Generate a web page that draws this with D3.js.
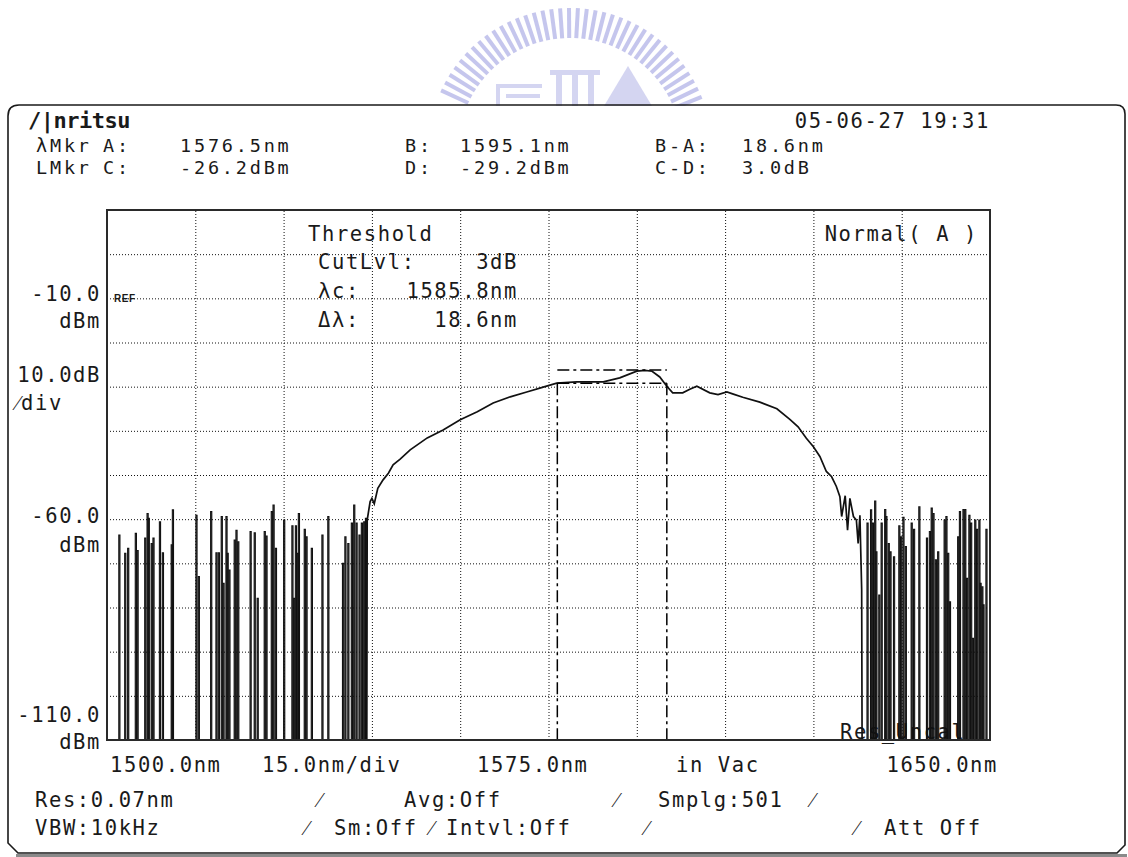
<!DOCTYPE html>
<html>
<head>
<meta charset="utf-8">
<script src="https://cdn.jsdelivr.net/npm/d3@7"></script>
<style>
  body { margin: 0; background: #fff; }
  svg text { font-family: "DejaVu Sans Mono", monospace; font-size: 20.5px; letter-spacing: 1.6px; fill: #1a1a1a; }
  svg text.hdr { font-size: 18.5px; letter-spacing: 2.8px; }
</style>
</head>
<body>
<svg id="chart" width="1128" height="857"></svg>
<script>

// axis ranges of the analyser screen
var xDomain = [1500, 1650];       // nm
var yDomain = [-110, 10];         // dBm, 10 dB/div, REF -10 dBm
var xGrid = [1515, 1530, 1545, 1560, 1575, 1590, 1605, 1620, 1635];
var yGrid = [0, -10, -20, -30, -40, -50, -60, -70, -80, -90, -100];

// markers / threshold result
var markerA = 1576.5, markerB = 1595.1;
var levelC = -26.2, levelD = -29.2;

// header and footer texts
var headerRow1 = ["λMkr", "A:", "1576.5nm", "B:", "1595.1nm", "B-A:", "18.6nm"];
var headerRow2 = ["LMkr", "C:", "-26.2dBm", "D:", "-29.2dBm", "C-D:", "3.0dB"];
var dateText = "05-06-27 19:31";
var yLabelValues = [-10, -60, -110];
var yLabelTexts = ["-10.0", "-60.0", "-110.0"];
var xLabelTexts = ["1500.0nm", "15.0nm/div", "1575.0nm", "in Vac", "1650.0nm"];
var footerRow1 = ["Res:0.07nm", "⁄", "Avg:Off", "⁄", "Smplg:501", "⁄"];
var footerRow2 = ["VBW:10kHz", "⁄", "Sm:Off", "⁄", "Intvl:Off", "⁄", "⁄", "Att Off"];
var thresholdLabels = ["CutLvl:", "λc:", "Δλ:"];
var thresholdValues = ["3dB", "1585.8nm", "18.6nm"];

// ASE spectrum (nm, dBm)
var signalNm = [1544.1, 1544.2, 1544.7, 1545.0, 1545.4, 1546.0, 1546.9, 1547.8, 1548.6, 1549.8,
  1551.5, 1554.4, 1557.1, 1560.0, 1562.9, 1565.6, 1568.5, 1571.3, 1574.1, 1576.4,
  1579.8, 1584.3, 1587.1, 1590.0, 1591.4, 1592.6, 1593.9, 1595.1, 1596.1, 1597.8,
  1599.0, 1600.2, 1602.4, 1603.8, 1605.3, 1606.4, 1608.0, 1610.9, 1613.8, 1616.0,
  1617.4, 1618.8, 1620.0, 1621.1, 1622.2, 1623.1, 1623.9, 1624.5, 1624.8, 1625.4,
  1625.8, 1626.2, 1626.8, 1627.3, 1627.6, 1627.9, 1628.2, 1628.3];
var signalDbm = [-125, -60.2, -56.0, -55.3, -56.5, -53.0, -51.1, -49.6, -47.7, -46.4,
  -44.3, -41.6, -39.8, -37.5, -35.7, -33.7, -32.3, -31.2, -30.1, -29.2,
  -28.9, -28.9, -28.0, -26.5, -26.3, -26.5, -27.8, -29.9, -31.4, -31.4,
  -30.6, -29.9, -31.4, -31.8, -31.2, -31.7, -32.4, -33.5, -35.0, -37.4,
  -39.1, -41.7, -43.6, -45.8, -49.2, -50.4, -52.6, -54.9, -59.4, -54.7,
  -62.5, -55.3, -59.4, -60.2, -65.5, -59.1, -76.0, -125];

// noise spikes outside the band (nm, top dBm); between them the trace is below -110 dBm
var noiseNm = [1502.1, 1503.1, 1503.6, 1504.9, 1505.2, 1506.5, 1506.9, 1507.1, 1507.6, 1507.9,
  1509.0, 1509.5, 1511.0, 1511.2, 1515.2, 1515.6, 1517.7, 1518.6, 1519.0, 1519.5,
  1519.8, 1520.3, 1520.5, 1520.8, 1521.7, 1522.0, 1522.3, 1524.4, 1525.1, 1525.6,
  1526.8, 1527.1, 1528.0, 1528.3, 1528.7, 1530.1, 1531.5, 1531.8, 1532.1, 1532.4,
  1532.6, 1533.6, 1533.9, 1534.8, 1536.6, 1537.6, 1540.1, 1540.5, 1541.0, 1541.6,
  1542.0, 1542.4, 1542.9, 1543.3, 1543.7, 1544.0,
  1629.2, 1629.8, 1630.1, 1630.5, 1630.7, 1631.2, 1631.6, 1632.2, 1632.4, 1632.8,
  1633.1, 1633.7, 1634.6, 1634.9, 1635.3, 1635.7, 1636.7, 1637.1, 1638.0, 1639.3,
  1639.8, 1640.1, 1640.4, 1640.8, 1641.2, 1642.3, 1642.6, 1642.9, 1643.2, 1644.6,
  1644.9, 1645.5, 1645.8, 1646.1, 1646.5, 1646.8, 1647.1, 1647.5, 1647.8, 1648.2,
  1648.4, 1648.7, 1648.9, 1649.4];
var noiseDbm = [-63.6, -67.7, -66.6, -63.2, -67.1, -64.3, -58.7, -59.8, -65.5, -64.3,
  -60.6, -67.6, -65.8, -57.9, -59.1, -73.0, -58.3, -67.6, -67.6, -59.4,
  -74.5, -59.4, -67.7, -71.5, -64.7, -62.5, -65.1, -62.8, -63.1, -77.9,
  -62.8, -63.8, -58.3, -56.8, -66.6, -60.2, -61.5, -77.9, -61.5, -67.7,
  -58.7, -62.3, -64.0, -66.6, -63.6, -59.4, -70.0, -64.0, -65.5, -60.9,
  -56.8, -60.9, -63.6, -60.9, -60.6, -59.8,
  -60.9, -57.9, -60.9, -55.9, -67.4, -77.2, -60.9, -57.8, -59.4, -65.5,
  -67.4, -68.5, -61.5, -64.0, -59.6, -66.2, -60.9, -62.3, -57.2, -64.3,
  -62.8, -57.5, -58.7, -69.2, -67.4, -60.2, -59.4, -67.7, -78.7, -64.0,
  -58.3, -57.8, -57.8, -73.4, -59.1, -60.9, -87.0, -60.2, -62.3, -60.2,
  -74.5, -75.3, -79.4, -62.3];

var FLOOR = -125;

var svg = d3.select("#chart");

// plot area on the screen
var pLeft = 107, pTop = 210, pRight = 990, pBottom = 740;

var x = d3.scaleLinear().domain(xDomain).range([pLeft, pRight]);
var y = d3.scaleLinear().domain(yDomain).range([pBottom, pTop]);

function label(px, py, s, anchor) {
  return svg.append("text")
    .attr("x", px)
    .attr("y", py)
    .attr("text-anchor", anchor || "start")
    .text(s);
}

/////////////////////////////////////////////////
// watermark logo (faint, behind everything)
/////////////////////////////////////////////////
var wm = svg.append("g").attr("opacity", 0.45);
for (var a = 22; a <= 158; a += 3.6) {
  var r = a * Math.PI / 180;
  wm.append("line")
    .attr("x1", 570 + 112 * Math.cos(r)).attr("y1", 150 - 112 * Math.sin(r))
    .attr("x2", 570 + 142 * Math.cos(r)).attr("y2", 150 - 142 * Math.sin(r))
    .attr("stroke", "#8082d8")
    .attr("stroke-width", 4);
}
var bld = wm.append("g").attr("fill", "#a2a4e2");
bld.append("rect").attr("x", 496).attr("y", 84).attr("width", 46).attr("height", 4);
bld.append("rect").attr("x", 496).attr("y", 84).attr("width", 4).attr("height", 22);
bld.append("rect").attr("x", 506).attr("y", 94).attr("width", 34).attr("height", 4);
bld.append("rect").attr("x", 550).attr("y", 70).attr("width", 50).attr("height", 5);
bld.append("rect").attr("x", 556).attr("y", 70).attr("width", 6).attr("height", 36);
bld.append("rect").attr("x", 572).attr("y", 70).attr("width", 6).attr("height", 36);
bld.append("rect").attr("x", 588).attr("y", 70).attr("width", 6).attr("height", 36);
bld.append("path").attr("d", "M604,106 L628,66 L652,106 Z");

/////////////////////////////////////////////////
// outer screen frame
/////////////////////////////////////////////////
svg.append("rect")
  .attr("x", 9).attr("y", 106).attr("width", 1115).attr("height", 746)
  .attr("fill", "#fff");
svg.append("path")
  .attr("d", "M8,116 Q8,105 19,105 H1116 Q1125,105 1125,114 V845 L1117,853 H18 L8,843 Z")
  .attr("fill", "none")
  .attr("stroke", "#1a1a1a")
  .attr("stroke-width", 1.6);
svg.append("line")
  .attr("x1", 16).attr("x2", 1127).attr("y1", 855.5).attr("y2", 855.5)
  .attr("stroke", "#8a8a8a").attr("stroke-width", 3);

/////////////////////////////////////////////////
// header
/////////////////////////////////////////////////
label(28, 128, "/|nritsu").style("font-weight", "bold").style("font-size", "22px").style("letter-spacing", "-0.5px");
label(990, 128, dateText, "end");

var headerCols = [36, 103, 180, 405, 460, 655, 742];
headerRow1.forEach(function (s, i) { label(headerCols[i], 152, s).attr("class", "hdr"); });
headerRow2.forEach(function (s, i) { label(headerCols[i], 174, s).attr("class", "hdr"); });

/////////////////////////////////////////////////
// grid (dotted) via axes
/////////////////////////////////////////////////
var gx = svg.append("g")
  .attr("transform", "translate(0," + pBottom + ")")
  .call(d3.axisBottom(x).tickValues(xGrid).tickSize(-(pBottom - pTop)).tickFormat(""));
var gy = svg.append("g")
  .attr("transform", "translate(" + pLeft + ",0)")
  .call(d3.axisLeft(y).tickValues(yGrid).tickSize(-(pRight - pLeft)).tickFormat(""));
[gx, gy].forEach(function (g) {
  g.select(".domain").remove();
  g.selectAll(".tick line")
    .attr("stroke", "#111")
    .attr("stroke-width", 1)
    .attr("stroke-dasharray", "1,2");
});

// REF tag on the reference level line
svg.append("text")
  .attr("x", 114).attr("y", y(-10) + 4)
  .style("font-family", "Liberation Sans, Arial, sans-serif")
  .style("font-size", "10px")
  .style("font-weight", "bold")
  .style("letter-spacing", "0.5px")
  .text("REF");

/////////////////////////////////////////////////
// texts inside the plot
/////////////////////////////////////////////////
label(308, 241, "Threshold");
var thrY = [269, 298, 327];
thresholdLabels.forEach(function (s, i) { label(318, thrY[i], s); });
thresholdValues.forEach(function (s, i) { label(518, thrY[i], s, "end"); });
label(978, 241, "Normal( A )", "end");
label(840, 739, "Res_Uncal");

/////////////////////////////////////////////////
// y labels
/////////////////////////////////////////////////
var yValShift = [3, 4, -18];
var yUnitShift = [30, 33, 9];
yLabelValues.forEach(function (v, i) {
  label(101, y(v) + yValShift[i], yLabelTexts[i], "end");
  label(101, y(v) + yUnitShift[i], "dBm", "end");
});
label(101, 382, "10.0dB", "end");
label(16, 410, "⁄div");

/////////////////////////////////////////////////
// x labels
/////////////////////////////////////////////////
var xLabelPos = [x(1500) + 3, 262, 477, 676, x(1650) + 8];
var xLabelAnchor = ["start", "start", "start", "start", "end"];
xLabelTexts.forEach(function (s, i) { label(xLabelPos[i], 772, s, xLabelAnchor[i]); });

/////////////////////////////////////////////////
// footer settings
/////////////////////////////////////////////////
var foot1X = [35, 318, 404, 615, 658, 811];
var foot2X = [35, 305, 334, 430, 446, 645, 855, 884];
footerRow1.forEach(function (s, i) { label(foot1X[i], 807, s); });
footerRow2.forEach(function (s, i) { label(foot2X[i], 835, s); });

/////////////////////////////////////////////////
// traces
/////////////////////////////////////////////////
svg.append("clipPath").attr("id", "plotclip")
  .append("rect")
  .attr("x", pLeft).attr("y", pTop)
  .attr("width", pRight - pLeft).attr("height", pBottom - pTop);

var traces = svg.append("g").attr("clip-path", "url(#plotclip)");
var line = d3.line()
  .x(function (d) { return x(d[0]); })
  .y(function (d) { return y(d[1]); });

// noise spikes: up and down on neighbouring samples
var half = 0.1;
noiseNm.forEach(function (nm, i) {
  var pts = [[nm - half, FLOOR], [nm - half, noiseDbm[i]], [nm + half, noiseDbm[i]], [nm + half, FLOOR]];
  traces.append("path")
    .attr("d", line(pts))
    .attr("fill", "none")
    .attr("stroke", "#111")
    .attr("stroke-width", 1.1);
});

// the amplified band
var sig = signalNm.map(function (nm, i) { return [nm, signalDbm[i]]; });
traces.append("path")
  .attr("d", line(sig))
  .attr("fill", "none")
  .attr("stroke", "#111")
  .attr("stroke-width", 1.7);

// threshold markers (dash-dot)
var mk = svg.append("g")
  .attr("fill", "none")
  .attr("stroke", "#000")
  .attr("stroke-width", 1.5)
  .attr("stroke-dasharray", "12,4,3,4");
[markerA, markerB].forEach(function (m) {
  mk.append("path").attr("d", line([[m, levelD], [m, yDomain[0]]]));
});
mk.append("path").attr("d", line([[markerA, levelC], [markerB, levelC]]));
mk.append("path").attr("d", line([[markerA, levelD], [markerB, levelD]]));

// plot border
svg.append("rect")
  .attr("x", pLeft).attr("y", pTop)
  .attr("width", pRight - pLeft).attr("height", pBottom - pTop)
  .attr("fill", "none")
  .attr("stroke", "#2a2a2a")
  .attr("stroke-width", 2);

</script>
</body>
</html>
